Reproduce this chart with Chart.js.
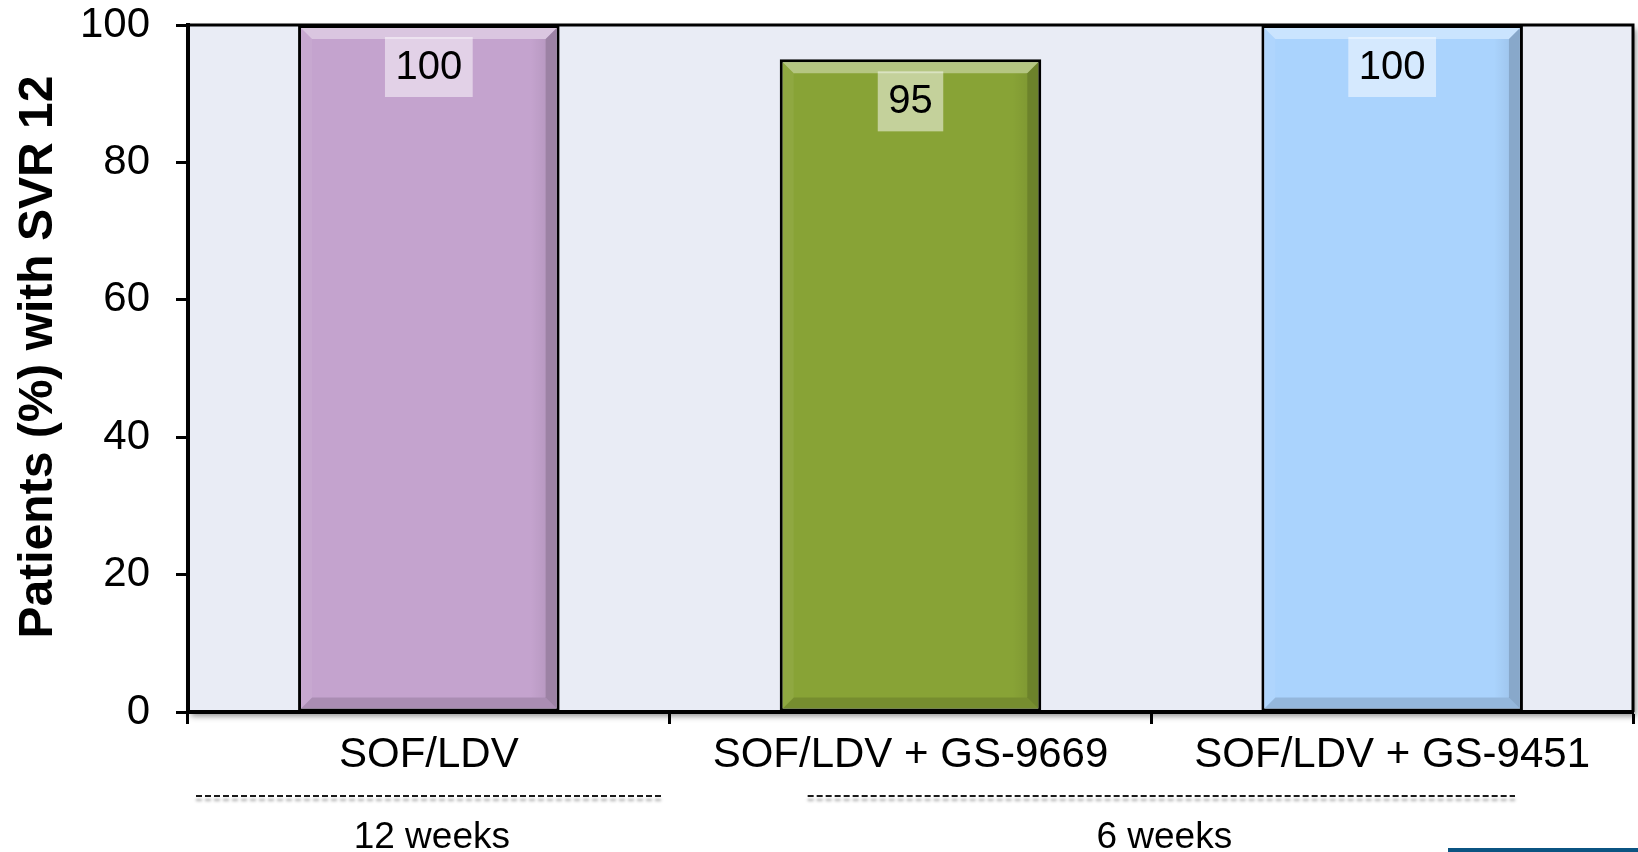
<!DOCTYPE html>
<html>
<head>
<meta charset="utf-8">
<script src="https://cdn.jsdelivr.net/npm/chart.js@4.4.0/dist/chart.umd.min.js"></script>
<style>
  html, body { margin: 0; padding: 0; background: #ffffff; }
  #wrap { width: 1638px; height: 852px; position: relative; }
</style>
</head>
<body>
<div id="wrap"><canvas id="c" width="1638" height="852"></canvas></div>
<script>
// Treatment arms and SVR12 rates
const categories = ['SOF/LDV', 'SOF/LDV + GS-9669', 'SOF/LDV + GS-9451'];
const svr12 = [100, 95, 100];
const barColors = ['#C4A3CE', '#88A336', '#AAD3FD'];
const yTicks = [0, 20, 40, 60, 80, 100];
const yTitle = 'Patients (%) with SVR 12';

// Treatment duration groups (first/last category index of each group)
const durationLabels = ['12 weeks', '6 weeks'];
const durationSpans = [[0, 0], [1, 2]];

const FONT = '"Liberation Sans", Arial, Helvetica, sans-serif';

// Plot background with a soft drop shadow, plus the top/right frame lines
const plotFrame = {
  id: 'plotFrame',
  beforeDraw(chart) {
    const { ctx, chartArea: a } = chart;
    ctx.save();
    ctx.shadowColor = 'rgba(0,0,0,0.45)';
    ctx.shadowBlur = 6;
    ctx.shadowOffsetX = 3;
    ctx.shadowOffsetY = 4;
    ctx.fillStyle = '#E9ECF5';
    ctx.fillRect(a.left, a.top, a.right - a.left, a.bottom - a.top);
    ctx.restore();
  },
  afterDatasetsDraw(chart) {
    const { ctx, chartArea: a } = chart;
    ctx.save();
    ctx.strokeStyle = '#000';
    ctx.lineWidth = 3;
    ctx.beginPath();
    ctx.moveTo(a.left, a.top);
    ctx.lineTo(a.right, a.top);
    ctx.lineTo(a.right, a.bottom);
    ctx.stroke();
    ctx.restore();
  }
};

// Bevelled bar faces and boxed value labels
const barDecor = {
  id: 'barDecor',
  afterDatasetsDraw(chart) {
    const { ctx } = chart;
    const meta = chart.getDatasetMeta(0);
    const ds = chart.data.datasets[0];
    meta.data.forEach((bar, i) => {
      const p = bar.getProps(['x', 'y', 'base', 'width'], true);
      const bw = 3, d = 11;
      const l = p.x - p.width / 2 + bw, r = p.x + p.width / 2 - bw;
      const t = p.y + bw, b = p.base - bw;
      const quad = (pts, fill) => {
        ctx.beginPath();
        ctx.moveTo(pts[0][0], pts[0][1]);
        for (let k = 1; k < pts.length; k++) ctx.lineTo(pts[k][0], pts[k][1]);
        ctx.closePath();
        ctx.fillStyle = fill;
        ctx.fill();
      };
      ctx.save();
      quad([[l, t], [r, t], [r - d, t + d], [l + d, t + d]], 'rgba(255,255,255,0.38)');
      quad([[r, t], [r, b], [r - d, b - d], [r - d, t + d]], 'rgba(0,0,0,0.2)');
      quad([[l, b], [r, b], [r - d, b - d], [l + d, b - d]], 'rgba(0,0,0,0.13)');
      quad([[l, t], [l, b], [l + d, b - d], [l + d, t + d]], 'rgba(255,255,255,0.06)');
      // gradient shading near the right edge
      const g = ctx.createLinearGradient(r - 26, 0, r, 0);
      g.addColorStop(0, 'rgba(0,0,0,0)');
      g.addColorStop(1, 'rgba(0,0,0,0.1)');
      ctx.fillStyle = g;
      ctx.fillRect(r - 26, t + d, 26 - d, b - t - 2 * d);

      // value label
      const txt = String(ds.data[i]);
      ctx.font = '40px ' + FONT;
      const tw = ctx.measureText(txt).width;
      const boxW = tw + 21, boxH = 60;
      const boxTop = p.y + 12;
      ctx.fillStyle = 'rgba(255,255,255,0.5)';
      ctx.fillRect(p.x - boxW / 2, boxTop, boxW, boxH);
      ctx.fillStyle = '#000';
      ctx.textAlign = 'center';
      ctx.textBaseline = 'middle';
      ctx.fillText(txt, p.x, boxTop + boxH / 2 + 1);
      ctx.restore();
    });
  }
};

// Y-axis title, duration brackets and the footer rule
const annotations = {
  id: 'annotations',
  afterDraw(chart) {
    const { ctx, chartArea: a } = chart;
    const xs = chart.scales.x;
    const catW = (xs.right - xs.left) / categories.length;
    ctx.save();

    // rotated axis title
    ctx.translate(39, 357);
    ctx.rotate(-Math.PI / 2);
    ctx.font = 'bold 48px ' + FONT;
    ctx.fillStyle = '#000';
    ctx.textAlign = 'center';
    ctx.textBaseline = 'middle';
    ctx.fillText(yTitle, 0, 0);
    ctx.setTransform(1, 0, 0, 1, 0, 0);

    // dashed brackets with duration labels
    const insets = [[8, 8], [138, 118]];
    durationSpans.forEach((span, gi) => {
      const x0 = xs.getPixelForValue(span[0]) - catW / 2 + insets[gi][0];
      const x1 = xs.getPixelForValue(span[1]) + catW / 2 - insets[gi][1];
      const y = a.bottom + 84;
      ctx.save();
      ctx.shadowColor = 'rgba(0,0,0,0.35)';
      ctx.shadowBlur = 3;
      ctx.shadowOffsetY = 4;
      ctx.strokeStyle = '#1a1a1a';
      ctx.lineWidth = 2;
      ctx.setLineDash([6, 3]);
      ctx.beginPath();
      ctx.moveTo(x0, y);
      ctx.lineTo(x1, y);
      ctx.stroke();
      ctx.restore();

      ctx.font = '37px ' + FONT;
      ctx.fillStyle = '#000';
      ctx.textAlign = 'center';
      ctx.textBaseline = 'middle';
      ctx.fillText(durationLabels[gi], (x0 + x1) / 2 + 3, a.bottom + 126);
    });

    // footer rule
    ctx.fillStyle = '#0B5482';
    ctx.fillRect(1448, 848, 190, 4);
    ctx.restore();
  }
};

new Chart(document.getElementById('c'), {
  type: 'bar',
  data: {
    labels: categories,
    datasets: [{
      data: svr12,
      backgroundColor: barColors,
      borderColor: '#000',
      borderWidth: 3,
      borderSkipped: false,
      categoryPercentage: 1.0,
      barPercentage: 0.543
    }]
  },
  options: {
    responsive: false,
    animation: false,
    devicePixelRatio: 1,
    layout: { padding: { top: 25, right: 5, left: 0, bottom: 0 } },
    plugins: {
      legend: { display: false },
      tooltip: { enabled: false }
    },
    scales: {
      x: {
        afterFit(scale) { scale.height = 140; },
        grid: {
          offset: true,
          drawOnChartArea: false,
          drawTicks: true,
          tickLength: 12,
          tickWidth: 3,
          tickColor: '#000'
        },
        border: { display: true, color: '#000', width: 4 },
        ticks: {
          color: '#000',
          padding: 6,
          maxRotation: 0,
          autoSkip: false,
          font: { family: FONT, size: 42 }
        }
      },
      y: {
        min: 0,
        max: 100,
        afterFit(scale) {
          scale.width = 188;
          scale.paddingTop = 0;
          scale.paddingBottom = 0;
        },
        afterBuildTicks(scale) { scale.ticks = yTicks.map(v => ({ value: v })); },
        grid: {
          drawOnChartArea: false,
          drawTicks: true,
          tickLength: 12,
          tickWidth: 3,
          tickColor: '#000'
        },
        border: { display: true, color: '#000', width: 4 },
        ticks: {
          color: '#000',
          padding: 26,
          font: { family: FONT, size: 42 }
        }
      }
    }
  },
  plugins: [plotFrame, barDecor, annotations]
});
</script>
</body>
</html>
